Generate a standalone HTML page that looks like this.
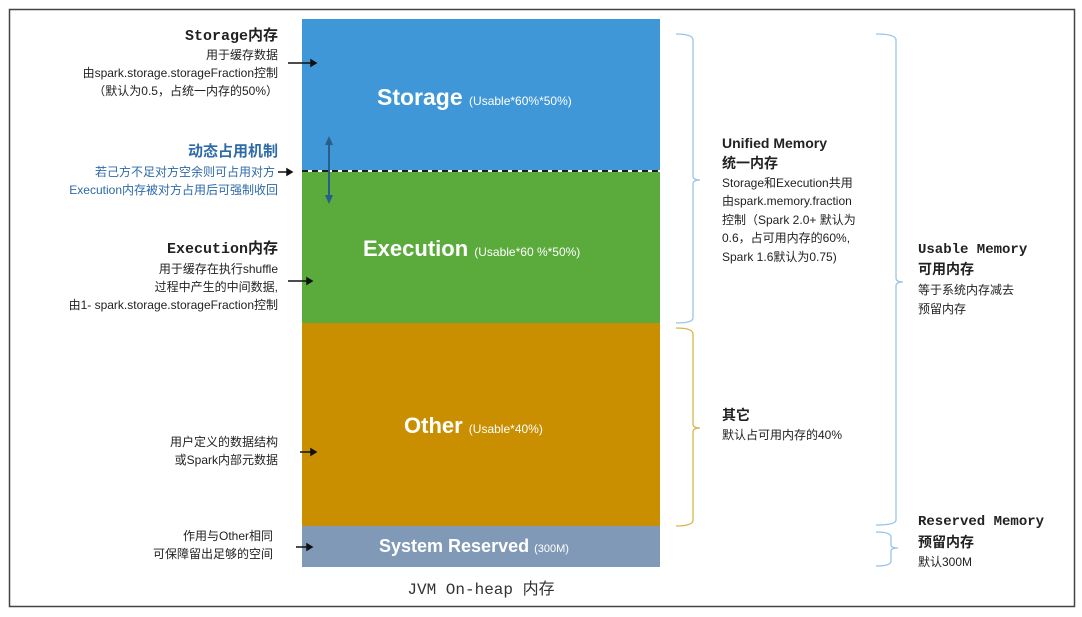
<!DOCTYPE html>
<html><head><meta charset="utf-8"><style>
body{margin:0;width:1082px;height:612px;background:#fff;overflow:hidden}
text{font-family:"Liberation Sans","Noto Sans CJK SC",sans-serif}
text.m{font-family:"Liberation Mono","Noto Sans CJK SC",monospace}
</style></head><body>
<svg width="1082" height="612" xmlns="http://www.w3.org/2000/svg">
<rect x="9.5" y="9.5" width="1065" height="597" fill="#fff" stroke="#444" stroke-width="1.5"/>
<rect x="302" y="19" width="358" height="152" fill="#3f97d8"/>
<rect x="302" y="171" width="358" height="152" fill="#5aab3c"/>
<rect x="302" y="323" width="358" height="203" fill="#c98f00"/>
<rect x="302" y="526" width="358" height="41" fill="#8099b7"/>
<line x1="302" y1="171" x2="660" y2="171" stroke="#fff" stroke-width="2"/>
<line x1="302" y1="171" x2="660" y2="171" stroke="#1d1d1d" stroke-width="2" stroke-dasharray="6,4"/>
<g fill="#fff" font-weight="bold">
<text x="377" y="105" font-size="23">Storage <tspan font-size="12" font-weight="normal">(Usable*60%*50%)</tspan></text>
<text x="363" y="256" font-size="22">Execution <tspan font-size="12" font-weight="normal">(Usable*60 %*50%)</tspan></text>
<text x="404" y="433" font-size="22">Other <tspan font-size="12" font-weight="normal">(Usable*40%)</tspan></text>
<text x="379" y="552" font-size="18">System Reserved <tspan font-size="11" font-weight="normal">(300M)</tspan></text>
</g>
<text class="m" x="481" y="594" font-size="16" text-anchor="middle" fill="#333">JVM On-heap 内存</text>
<line x1="329" y1="142" x2="329" y2="198" stroke="#2a5d8a" stroke-width="2"/>
<path d="M325 145 L329 136 L333 145Z M325 195 L329 204 L333 195Z" fill="#2a5d8a"/>
<g stroke="#111" stroke-width="1.5" fill="#111">
<line x1="288" y1="63" x2="312" y2="63"/><path d="M311 60 L316 63 L311 66Z"/>
<line x1="278" y1="172" x2="288" y2="172"/><path d="M287 169 L292 172 L287 175Z"/>
<line x1="288" y1="281" x2="308" y2="281"/><path d="M307 278 L312 281 L307 284Z"/>
<line x1="300" y1="452" x2="312" y2="452"/><path d="M311 449 L316 452 L311 455Z"/>
<line x1="296" y1="547" x2="308" y2="547"/><path d="M307 544 L312 547 L307 550Z"/>
</g>
<g text-anchor="end" font-size="12" fill="#222">
<text class="m" x="278" y="40" font-size="15" font-weight="bold">Storage内存</text>
<text x="278" y="59">用于缓存数据</text>
<text x="278" y="77">由spark.storage.storageFraction控制</text>
<text x="278" y="95">（默认为0.5，占统一内存的50%）</text>
<text x="278" y="156" font-size="15" font-weight="bold" fill="#2d6aa8">动态占用机制</text>
<text x="275" y="176" fill="#2d6aa8">若己方不足对方空余则可占用对方</text>
<text x="278" y="194" fill="#2d6aa8">Execution内存被对方占用后可强制收回</text>
<text class="m" x="278" y="253" font-size="15" font-weight="bold">Execution内存</text>
<text x="278" y="273">用于缓存在执行shuffle</text>
<text x="278" y="291">过程中产生的中间数据,</text>
<text x="278" y="309">由1- spark.storage.storageFraction控制</text>
<text x="278" y="446">用户定义的数据结构</text>
<text x="278" y="464">或Spark内部元数据</text>
<text x="273" y="540">作用与Other相同</text>
<text x="273" y="558">可保障留出足够的空间</text>
</g>
<g fill="none" stroke-width="1.3">
<path d="M676 34 Q693 34 693 40 L693 176 Q693 180 700 180 Q693 180 693 184 L693 318 Q693 323 676 323" stroke="#9cc3e4"/>
<path d="M876 34 Q896 34 896 40 L896 278 Q896 282 903 282 Q896 282 896 286 L896 520 Q896 525 876 525" stroke="#9cc3e4"/>
<path d="M676 328 Q693 328 693 334 L693 424 Q693 428 700 428 Q693 428 693 432 L693 520 Q693 526 676 526" stroke="#d9b64a"/>
<path d="M876 532 Q891 532 891 537 L891 545 Q891 548 898 548 Q891 548 891 551 L891 561 Q891 566 876 566" stroke="#9cc3e4"/>
</g>
<g font-size="12" fill="#222">
<text x="722" y="148" font-size="14" font-weight="bold">Unified Memory</text>
<text x="722" y="168" font-size="14" font-weight="bold">统一内存</text>
<text x="722" y="187">Storage和Execution共用</text>
<text x="722" y="205">由spark.memory.fraction</text>
<text x="722" y="224">控制（Spark 2.0+ 默认为</text>
<text x="722" y="242">0.6，占可用内存的60%,</text>
<text x="722" y="261">Spark 1.6默认为0.75)</text>
<text class="m" x="918" y="253" font-size="14" font-weight="bold">Usable Memory</text>
<text x="918" y="274" font-size="14" font-weight="bold">可用内存</text>
<text x="918" y="294">等于系统内存减去</text>
<text x="918" y="313">预留内存</text>
<text x="722" y="420" font-size="14" font-weight="bold">其它</text>
<text x="722" y="439">默认占可用内存的40%</text>
<text class="m" x="918" y="525" font-size="14" font-weight="bold">Reserved Memory</text>
<text x="918" y="547" font-size="14" font-weight="bold">预留内存</text>
<text x="918" y="566">默认300M</text>
</g>
</svg>
</body></html>
